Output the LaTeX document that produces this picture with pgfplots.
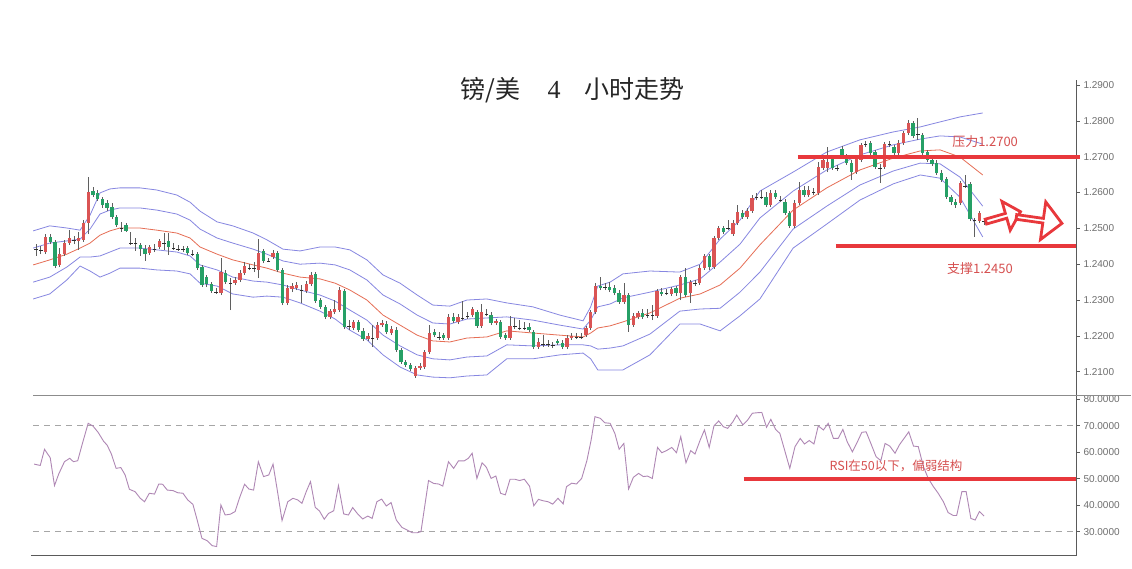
\documentclass[border=0pt]{standalone}
\usepackage{fontspec}
\setmainfont{Liberation Sans}
\newfontfamily\cjk{Noto Sans CJK SC}
\newfontfamily\serifnum{Liberation Serif}
\usepackage{pgfplots}
\pgfplotsset{compat=1.18}
\usepackage{pgfplotstable}
\usetikzlibrary{shapes.arrows}

\definecolor{upc}{RGB}{218,84,84}
\definecolor{dnc}{RGB}{38,160,102}
\definecolor{wickc}{RGB}{95,95,95}
\definecolor{dojic}{RGB}{45,45,45}
\definecolor{bandc}{RGB}{135,135,225}
\definecolor{midc}{RGB}{230,110,85}
\definecolor{rsic}{RGB}{175,135,180}
\definecolor{annc}{RGB}{232,56,60}
\definecolor{anntext}{RGB}{214,80,80}
\definecolor{axc}{RGB}{90,90,90}
\definecolor{labc}{RGB}{110,110,110}

\pgfplotstableread{
k o h l c
3 1.2434 1.2484 1.2428 1.2476
6 1.2398 1.2445 1.2392 1.2428
7 1.2428 1.2468 1.2423 1.2459
8 1.2459 1.2495 1.2454 1.2473
10 1.2465 1.2490 1.2440 1.2473
11 1.2468 1.2523 1.2462 1.2515
12 1.2515 1.2643 1.2484 1.2601
25 1.2431 1.2454 1.2426 1.2448
27 1.2448 1.2470 1.2442 1.2465
40 1.2320 1.2417 1.2314 1.2378
43 1.2347 1.2364 1.2342 1.2356
44 1.2356 1.2384 1.2350 1.2375
45 1.2375 1.2406 1.2370 1.2395
48 1.2384 1.2470 1.2361 1.2431
51 1.2420 1.2440 1.2415 1.2431
54 1.2292 1.2342 1.2286 1.2334
55 1.2331 1.2347 1.2322 1.2339
56 1.2334 1.2350 1.2328 1.2342
58 1.2325 1.2353 1.2320 1.2345
59 1.2345 1.2378 1.2339 1.2370
63 1.2253 1.2275 1.2247 1.2269
64 1.2267 1.2300 1.2261 1.2275
65 1.2272 1.2336 1.2267 1.2328
68 1.2222 1.2244 1.2216 1.2239
71 1.2191 1.2208 1.2186 1.2200
73 1.2194 1.2239 1.2189 1.2230
74 1.2230 1.2244 1.2225 1.2236
76 1.2208 1.2228 1.2202 1.2219
81 1.2088 1.2116 1.2083 1.2110
82 1.2110 1.2124 1.2105 1.2116
83 1.2113 1.2161 1.2108 1.2155
84 1.2155 1.2230 1.2149 1.2208
88 1.2194 1.2261 1.2189 1.2253
90 1.2239 1.2261 1.2233 1.2253
93 1.2258 1.2281 1.2253 1.2275
95 1.2228 1.2289 1.2222 1.2267
98 1.2236 1.2247 1.2230 1.2242
101 1.2194 1.2256 1.2189 1.2228
107 1.2169 1.2194 1.2163 1.2183
113 1.2169 1.2202 1.2163 1.2194
114 1.2194 1.2208 1.2189 1.2200
117 1.2202 1.2228 1.2197 1.2222
118 1.2222 1.2272 1.2216 1.2267
119 1.2267 1.2347 1.2261 1.2339
125 1.2294 1.2347 1.2289 1.2314
127 1.2230 1.2264 1.2225 1.2256
128 1.2253 1.2269 1.2247 1.2264
132 1.2256 1.2331 1.2250 1.2325
135 1.2317 1.2336 1.2311 1.2331
137 1.2320 1.2370 1.2300 1.2364
139 1.2320 1.2356 1.2292 1.2350
141 1.2347 1.2398 1.2342 1.2389
142 1.2389 1.2428 1.2384 1.2423
144 1.2392 1.2479 1.2387 1.2473
145 1.2473 1.2507 1.2468 1.2501
148 1.2484 1.2523 1.2479 1.2515
149 1.2515 1.2565 1.2509 1.2546
151 1.2532 1.2557 1.2526 1.2548
152 1.2548 1.2593 1.2543 1.2585
156 1.2565 1.2607 1.2560 1.2599
161 1.2507 1.2579 1.2501 1.2571
162 1.2571 1.2629 1.2565 1.2607
164 1.2593 1.2618 1.2587 1.2607
166 1.2599 1.2685 1.2593 1.2671
167 1.2668 1.2702 1.2663 1.2691
168 1.2668 1.2727 1.2657 1.2685
174 1.2657 1.2702 1.2652 1.2694
175 1.2691 1.2738 1.2685 1.2733
180 1.2671 1.2741 1.2666 1.2735
183 1.2710 1.2747 1.2705 1.2738
184 1.2738 1.2772 1.2733 1.2766
185 1.2766 1.2802 1.2760 1.2794
196 1.2571 1.2632 1.2565 1.2627
200 1.2521 1.2548 1.2515 1.2543
}\upc

\pgfplotstableread{
k o h l c
4 1.2476 1.2484 1.2456 1.2462
5 1.2462 1.2468 1.2389 1.2395
13 1.2604 1.2615 1.2587 1.2593
14 1.2599 1.2607 1.2576 1.2582
15 1.2582 1.2587 1.2557 1.2565
16 1.2571 1.2579 1.2548 1.2557
17 1.2560 1.2571 1.2526 1.2532
18 1.2532 1.2537 1.2504 1.2509
20 1.2509 1.2515 1.2490 1.2493
23 1.2454 1.2459 1.2423 1.2442
24 1.2442 1.2454 1.2409 1.2428
29 1.2465 1.2487 1.2426 1.2448
33 1.2445 1.2451 1.2426 1.2431
35 1.2428 1.2434 1.2384 1.2389
36 1.2392 1.2398 1.2336 1.2342
37 1.2364 1.2370 1.2336 1.2345
38 1.2345 1.2350 1.2320 1.2325
41 1.2375 1.2384 1.2345 1.2350
49 1.2437 1.2442 1.2403 1.2409
52 1.2431 1.2437 1.2378 1.2384
53 1.2384 1.2389 1.2286 1.2292
60 1.2373 1.2378 1.2292 1.2297
61 1.2300 1.2306 1.2275 1.2281
62 1.2281 1.2286 1.2247 1.2253
66 1.2325 1.2331 1.2219 1.2225
69 1.2239 1.2244 1.2211 1.2216
70 1.2214 1.2222 1.2186 1.2191
75 1.2233 1.2242 1.2205 1.2211
77 1.2216 1.2225 1.2155 1.2161
78 1.2161 1.2166 1.2122 1.2127
79 1.2127 1.2133 1.2113 1.2119
80 1.2119 1.2124 1.2102 1.2108
85 1.2211 1.2219 1.2197 1.2202
87 1.2202 1.2208 1.2189 1.2194
89 1.2253 1.2264 1.2236 1.2242
94 1.2267 1.2272 1.2222 1.2228
97 1.2258 1.2267 1.2230 1.2236
99 1.2239 1.2244 1.2191 1.2197
100 1.2202 1.2208 1.2189 1.2194
105 1.2225 1.2236 1.2211 1.2216
106 1.2211 1.2216 1.2163 1.2169
111 1.2186 1.2191 1.2175 1.2180
112 1.2180 1.2189 1.2163 1.2169
120 1.2339 1.2364 1.2328 1.2334
122 1.2336 1.2350 1.2322 1.2328
123 1.2334 1.2342 1.2314 1.2320
124 1.2320 1.2328 1.2289 1.2294
126 1.2314 1.2320 1.2211 1.2230
129 1.2264 1.2275 1.2247 1.2253
133 1.2322 1.2334 1.2311 1.2317
136 1.2334 1.2339 1.2311 1.2320
138 1.2364 1.2389 1.2308 1.2314
143 1.2423 1.2428 1.2384 1.2392
146 1.2501 1.2507 1.2484 1.2490
150 1.2543 1.2551 1.2526 1.2532
155 1.2587 1.2601 1.2560 1.2565
157 1.2599 1.2607 1.2582 1.2587
159 1.2573 1.2582 1.2537 1.2543
160 1.2543 1.2548 1.2501 1.2507
163 1.2607 1.2618 1.2587 1.2593
169 1.2694 1.2705 1.2663 1.2668
171 1.2721 1.2730 1.2696 1.2705
172 1.2696 1.2707 1.2677 1.2682
173 1.2682 1.2691 1.2635 1.2657
177 1.2738 1.2744 1.2705 1.2710
178 1.2713 1.2719 1.2666 1.2671
182 1.2727 1.2733 1.2705 1.2710
186 1.2794 1.2800 1.2752 1.2758
188 1.2760 1.2766 1.2705 1.2710
189 1.2713 1.2719 1.2685 1.2691
190 1.2691 1.2696 1.2674 1.2680
191 1.2682 1.2691 1.2649 1.2654
192 1.2654 1.2663 1.2629 1.2635
193 1.2638 1.2643 1.2582 1.2587
194 1.2587 1.2593 1.2565 1.2573
195 1.2573 1.2582 1.2557 1.2565
198 1.2624 1.2629 1.2521 1.2526
}\dnc

\pgfplotstableread{
k o h l c
1 1.2442 1.2456 1.2423 1.2440
2 1.2440 1.2451 1.2428 1.2437
9 1.2468 1.2479 1.2456 1.2465
19 1.2504 1.2518 1.2490 1.2501
21 1.2462 1.2490 1.2454 1.2459
22 1.2462 1.2473 1.2437 1.2459
26 1.2445 1.2456 1.2434 1.2442
28 1.2462 1.2487 1.2440 1.2459
30 1.2448 1.2459 1.2440 1.2445
31 1.2445 1.2454 1.2437 1.2442
32 1.2442 1.2451 1.2434 1.2440
34 1.2431 1.2440 1.2423 1.2428
39 1.2325 1.2334 1.2317 1.2322
42 1.2350 1.2361 1.2272 1.2347
46 1.2392 1.2400 1.2384 1.2389
47 1.2392 1.2406 1.2378 1.2389
50 1.2412 1.2417 1.2406 1.2409
57 1.2331 1.2342 1.2292 1.2328
67 1.2228 1.2244 1.2216 1.2225
72 1.2197 1.2230 1.2169 1.2194
86 1.2200 1.2211 1.2189 1.2197
91 1.2253 1.2297 1.2244 1.2250
92 1.2256 1.2267 1.2247 1.2253
96 1.2264 1.2275 1.2256 1.2261
102 1.2228 1.2250 1.2219 1.2225
103 1.2225 1.2244 1.2216 1.2222
104 1.2225 1.2239 1.2216 1.2222
108 1.2180 1.2202 1.2169 1.2177
109 1.2177 1.2189 1.2169 1.2175
110 1.2175 1.2183 1.2166 1.2172
115 1.2200 1.2208 1.2191 1.2197
116 1.2200 1.2208 1.2191 1.2197
121 1.2336 1.2347 1.2328 1.2334
130 1.2258 1.2275 1.2250 1.2256
131 1.2261 1.2286 1.2244 1.2258
134 1.2320 1.2331 1.2314 1.2317
140 1.2347 1.2356 1.2339 1.2345
147 1.2504 1.2523 1.2495 1.2501
153 1.2587 1.2599 1.2579 1.2585
154 1.2590 1.2607 1.2582 1.2587
158 1.2582 1.2590 1.2573 1.2579
165 1.2601 1.2613 1.2593 1.2599
170 1.2668 1.2677 1.2660 1.2666
176 1.2735 1.2744 1.2727 1.2733
179 1.2671 1.2680 1.2627 1.2668
181 1.2735 1.2744 1.2727 1.2733
187 1.2766 1.2808 1.2747 1.2763
197 1.2621 1.2649 1.2613 1.2618
199 1.2523 1.2529 1.2476 1.2521
201 1.2521 1.2526 1.2509 1.2518
}\dojic

\pgfplotstableread{
k ou iu m il ol
0.4 1.2493 1.2445 1.2398 1.2350 1.2303
3.9 1.2507 1.2459 1.2412 1.2364 1.2317
7.5 1.2501 1.2465 1.2428 1.2392 1.2356
10.3 1.2495 1.2470 1.2445 1.2420 1.2395
12.4 1.2537 1.2498 1.2459 1.2420 1.2381
14.5 1.2599 1.2540 1.2481 1.2423 1.2364
16.6 1.2610 1.2551 1.2493 1.2434 1.2375
18.7 1.2613 1.2557 1.2501 1.2445 1.2389
22.9 1.2613 1.2557 1.2501 1.2445 1.2389
26.5 1.2607 1.2551 1.2495 1.2440 1.2384
30.7 1.2593 1.2540 1.2487 1.2434 1.2381
33.5 1.2573 1.2523 1.2473 1.2423 1.2373
35.6 1.2548 1.2498 1.2448 1.2398 1.2347
39.2 1.2518 1.2473 1.2428 1.2384 1.2339
42.5 1.2507 1.2459 1.2412 1.2364 1.2317
46.8 1.2487 1.2442 1.2398 1.2353 1.2308
49.7 1.2468 1.2428 1.2389 1.2350 1.2311
53.1 1.2442 1.2409 1.2375 1.2342 1.2308
56.7 1.2437 1.2400 1.2364 1.2328 1.2292
60.9 1.2448 1.2403 1.2359 1.2314 1.2269
64.1 1.2448 1.2398 1.2347 1.2297 1.2247
67.2 1.2440 1.2384 1.2328 1.2272 1.2216
70.8 1.2412 1.2356 1.2300 1.2244 1.2189
74.2 1.2370 1.2314 1.2258 1.2202 1.2147
77.8 1.2347 1.2289 1.2230 1.2172 1.2113
81.4 1.2314 1.2258 1.2202 1.2147 1.2091
84.7 1.2286 1.2236 1.2186 1.2136 1.2085
88.3 1.2283 1.2233 1.2183 1.2133 1.2083
91.9 1.2300 1.2247 1.2194 1.2141 1.2088
96.1 1.2303 1.2250 1.2197 1.2144 1.2091
100.3 1.2292 1.2253 1.2214 1.2175 1.2136
105.8 1.2281 1.2244 1.2208 1.2172 1.2136
111.5 1.2258 1.2230 1.2202 1.2175 1.2147
116.4 1.2242 1.2219 1.2197 1.2175 1.2152
118.0 1.2281 1.2244 1.2208 1.2172 1.2136
119.5 1.2339 1.2281 1.2222 1.2163 1.2105
122.1 1.2350 1.2289 1.2228 1.2166 1.2105
124.8 1.2373 1.2306 1.2239 1.2172 1.2105
130.5 1.2381 1.2322 1.2264 1.2205 1.2147
136.8 1.2378 1.2342 1.2305 1.2269 1.2233
141.1 1.2400 1.2359 1.2317 1.2275 1.2233
145.3 1.2470 1.2406 1.2342 1.2277 1.2214
149.5 1.2523 1.2456 1.2389 1.2322 1.2256
153.7 1.2604 1.2529 1.2454 1.2378 1.2303
160.7 1.2657 1.2604 1.2551 1.2498 1.2445
167.8 1.2713 1.2663 1.2613 1.2562 1.2512
174.8 1.2747 1.2705 1.2663 1.2621 1.2579
181.8 1.2769 1.2733 1.2696 1.2660 1.2624
187.5 1.2783 1.2749 1.2716 1.2682 1.2649
191.7 1.2797 1.2758 1.2719 1.2680 1.2640
195.9 1.2811 1.2755 1.2699 1.2643 1.2587
200.7 1.2822 1.2735 1.2649 1.2562 1.2476
}\bands

\pgfplotstableread{
k r
0.6 55.5
1.9 55.0
2.8 61.1
4.0 57.9
4.9 47.4
5.8 51.8
7.0 56.4
8.1 57.7
8.9 56.4
9.8 56.8
10.7 62.7
12.0 70.9
13.0 69.9
14.1 67.5
15.3 64.0
16.0 62.7
16.9 59.3
17.9 53.9
18.9 54.2
19.8 51.4
20.7 46.0
21.9 45.1
23.0 42.6
23.9 41.3
24.9 44.5
26.0 44.2
26.9 48.0
27.7 47.9
28.7 45.7
29.9 45.5
30.9 44.7
32.0 44.5
33.0 42.0
34.1 40.3
35.0 34.4
36.0 27.5
37.1 26.6
38.2 24.7
39.1 24.4
40.0 40.1
40.9 36.3
42.0 36.6
43.0 37.6
43.9 42.6
45.0 47.9
45.9 46.1
46.9 45.7
47.9 56.4
49.0 50.8
50.1 51.4
51.0 55.5
52.0 44.5
52.9 34.2
54.1 41.3
55.2 42.6
56.2 42.0
57.1 40.7
58.0 45.1
58.9 48.9
59.9 39.2
60.8 37.8
61.8 34.7
62.7 36.9
63.8 37.9
64.8 47.4
65.9 36.7
66.9 36.3
67.8 39.1
68.9 36.6
69.9 34.8
71.0 35.9
71.9 35.0
72.9 41.3
73.9 42.3
74.9 39.7
75.9 41.0
77.0 34.4
78.2 31.6
79.3 30.6
80.4 29.6
81.4 29.6
82.2 30.0
83.8 49.3
84.9 48.2
85.9 48.0
86.8 47.2
88.0 56.4
89.1 53.9
90.1 56.7
91.3 56.7
92.2 57.7
93.0 59.6
94.0 50.1
95.1 56.0
96.0 54.3
97.0 50.1
98.0 51.0
99.0 44.5
100.0 43.9
101.0 49.8
102.0 49.8
103.0 49.3
104.0 49.8
105.1 47.2
106.0 39.8
107.0 42.2
107.9 41.7
109.0 41.3
110.0 40.4
111.1 42.6
112.2 40.5
112.9 47.0
114.0 48.3
115.0 48.0
116.1 50.1
117.2 56.8
118.1 64.6
118.9 73.4
120.0 72.8
121.0 71.1
122.1 70.9
123.1 67.1
124.0 61.1
125.0 63.3
126.0 46.1
127.0 50.5
128.1 52.0
129.1 50.8
130.0 51.0
131.0 50.1
132.1 61.8
133.0 59.8
134.0 60.6
135.1 61.8
136.1 59.8
137.0 65.9
138.1 56.0
139.1 60.6
140.0 59.3
141.1 64.6
142.0 68.4
143.0 61.8
144.0 69.9
145.0 71.8
146.0 69.6
146.9 69.0
148.0 71.5
148.8 74.0
150.1 70.3
151.1 72.1
152.1 74.7
153.2 74.9
154.1 75.0
155.1 69.4
156.0 72.4
157.0 68.6
157.9 67.1
159.0 60.2
160.0 53.9
161.1 62.1
162.2 65.2
163.1 63.1
164.1 64.4
165.1 63.1
166.0 69.9
167.1 68.4
168.1 70.9
169.2 65.2
170.2 65.2
171.2 68.6
172.1 64.0
173.2 60.1
174.1 63.3
175.2 67.5
176.1 67.7
177.1 63.3
178.2 58.3
179.2 56.8
180.1 63.3
181.1 62.3
182.2 59.6
183.1 62.7
184.1 65.2
185.1 67.7
186.1 62.3
187.1 62.1
188.2 54.5
189.2 50.1
190.3 47.0
191.3 44.5
192.4 41.3
193.4 37.2
194.5 36.1
195.2 36.1
196.3 45.1
197.2 45.1
198.2 35.0
199.1 34.4
200.0 37.6
201.0 35.9
}\rsi

\pgfplotsset{
  panel/.style={
    scale only axis, anchor=south west,
    xmin=-0.055, xmax=220.37,
    axis x line=none, axis y line*=right,
    axis line style={-, draw=axc, line width=0.8pt},
    xtick=\empty,
    tick align=outside, major tick length=4pt,
    ytick style={draw=axc, line width=0.6pt},
    yticklabel style={font=\fontsize{10}{12}\selectfont, text=labc},
    /pgf/number format/fixed, /pgf/number format/fixed zerofill,
    /pgf/number format/precision=4, /pgf/number format/assume math mode=true,
    clip=false,
  },
  wick/.style={mark=none, draw=none, forget plot,
    error bars/.cd, y dir=plus, y explicit, error mark=none,
    error bar style={draw=wickc, solid, line width=0.7pt}},
  body/.style={mark=none, draw=none, forget plot,
    error bars/.cd, y dir=plus, y explicit, error mark=none,
    error bar style={draw=#1, solid, line width=3.3pt}},
}

\begin{document}
\begin{tikzpicture}[x=1pt,y=1pt]
\useasboundingbox (0,0) rectangle (1132,569);
\fill[white] (0,0) rectangle (1132,569);

% title
\node[anchor=base west, inner sep=0, font=\cjk\fontsize{25}{30}\selectfont, text=black!85] at (460,470) {镑/美};
\node[anchor=base, inner sep=0, font=\serifnum\fontsize{26}{30}\selectfont, text=black!85] at (554,470) {4};
\node[anchor=base west, inner sep=0, font=\cjk\fontsize{25}{30}\selectfont, text=black!85] at (584,470) {小时走势};

% price panel
\begin{axis}[panel, at={(31pt,173.3pt)}, width=1045pt, height=315.7pt,
  ymin=1.20331, ymax=1.29140,
  ytick={1.21,1.22,1.23,1.24,1.25,1.26,1.27,1.28,1.29}]
\addplot[bandc, line width=0.8pt] table[x=k,y=ou] {\bands};
\addplot[bandc, line width=0.8pt] table[x=k,y=iu] {\bands};
\addplot[midc, line width=0.8pt] table[x=k,y=m] {\bands};
\addplot[bandc, line width=0.8pt] table[x=k,y=il] {\bands};
\addplot[bandc, line width=0.8pt] table[x=k,y=ol] {\bands};

\addplot[wick] table[x=k, y=l, y error plus expr=\thisrow{h}-\thisrow{l}] {\upc};
\addplot[wick] table[x=k, y=l, y error plus expr=\thisrow{h}-\thisrow{l}] {\dnc};
\addplot[wick] table[x=k, y=l, y error plus expr=\thisrow{h}-\thisrow{l}] {\dojic};

\addplot[body=upc] table[x=k, y=o, y error plus expr=\thisrow{c}-\thisrow{o}] {\upc};
\addplot[body=dnc] table[x=k, y=c, y error plus expr=\thisrow{o}-\thisrow{c}] {\dnc};
\addplot[only marks, mark=-, mark size=1.8pt, mark options={draw=dojic, line width=0.9pt}, forget plot] table[x=k, y=c] {\dojic};

\addplot[annc, line width=4pt] coordinates {(161.7,1.27) (221.2,1.27)};
\addplot[annc, line width=4pt] coordinates {(169.7,1.245) (220.37,1.245)};
\node[font=\cjk\fontsize{13}{15}\selectfont, text=anntext] at (axis cs:201.2,1.2741) {压力1.2700};
\node[font=\cjk\fontsize{13}{15}\selectfont, text=anntext] at (axis cs:200.1,1.2387) {支撑1.2450};
\end{axis}

% RSI panel
\begin{axis}[panel, at={(31pt,13.3pt)}, width=1045pt, height=160pt,
  ymin=20.94, ymax=81.32,
  ytick={30,40,50,60,70,80}]
\addplot[black!35, line width=1.1pt, dash pattern=on 6pt off 5pt] coordinates {(0.4,70) (220.37,70)};
\addplot[black!35, line width=1.1pt, dash pattern=on 6pt off 5pt] coordinates {(0.4,30) (220.37,30)};
\addplot[rsic, line width=0.9pt] table[x=k,y=r] {\rsi};
\addplot[annc, line width=4pt] coordinates {(150.3,50) (220.37,50)};
\node[font=\cjk\fontsize{12.5}{15}\selectfont, text=anntext] at (axis cs:182.4,54.8) {RSI在50以下，偏弱结构};
\draw[black!45, line width=1.5pt] (axis cs:0.4,81.32) -- (axis cs:232,81.32);
\draw[axc, line width=1pt] (axis cs:-0.055,20.94) -- (axis cs:220.37,20.94);
\end{axis}

% arrows
\node[single arrow, draw=annc, fill=white, line width=2.8pt, inner sep=0pt,
  minimum height=36pt, minimum width=30pt, single arrow head extend=7pt, rotate=16]
  at (1002,352) {};
\node[single arrow, draw=annc, fill=white, line width=2.8pt, inner sep=0pt,
  minimum height=46pt, minimum width=38pt, single arrow head extend=10pt, rotate=-8]
  at (1038,349) {};
\end{tikzpicture}
\end{document}
